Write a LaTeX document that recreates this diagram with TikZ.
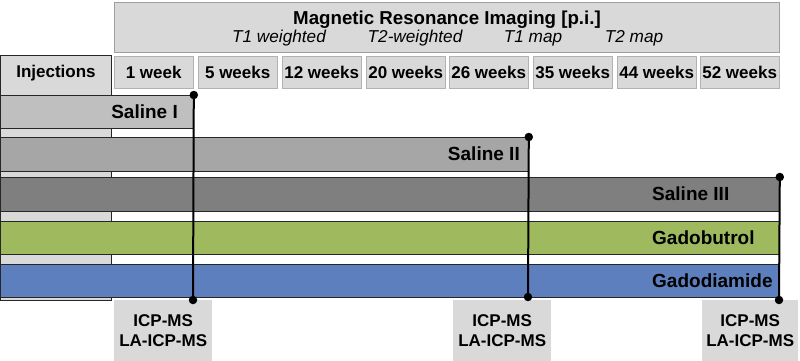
\documentclass[tikz,border=0pt]{standalone}
\usepackage{fontspec}
\setmainfont{Liberation Sans}
\usetikzlibrary{positioning}
\definecolor{cellgray}{HTML}{D9D9D9}
\definecolor{salIfill}{HTML}{BFBFBF}
\definecolor{salIIfill}{HTML}{A6A6A6}
\definecolor{salIIIfill}{HTML}{7F7F7F}
\definecolor{gdbtfill}{HTML}{9FBA5E}
\definecolor{gddafill}{HTML}{5D7FBE}

\begin{document}
\begin{tikzpicture}[
  x=1pt, y=-1pt,
  every node/.style={font=\fontsize{17}{20}\selectfont},
  header/.style={
    draw=gray!75, fill=cellgray, anchor=north west,
    minimum width=665pt, minimum height=50pt, inner sep=0pt
  },
  title/.style={font=\fontsize{18.7}{20}\selectfont\bfseries, inner sep=0pt},
  subtitle/.style={font=\fontsize{17.2}{20}\selectfont\itshape, inner sep=0pt},
  weekcell/.style={
    draw=gray!60, fill=cellgray, anchor=north west,
    minimum width=79pt, minimum height=32pt, inner sep=0pt,
    font=\fontsize{17}{20}\selectfont\bfseries
  },
  bar/.style={
    draw=black!85, line width=0.8pt, anchor=north west,
    minimum height=33pt, inner sep=0pt
  },
  barlabel/.style={font=\fontsize{19}{20}\selectfont\bfseries, inner sep=0pt},
  assay/.style={
    fill=cellgray, anchor=north west, align=center,
    minimum width=98pt, minimum height=61pt, inner sep=0pt,
    font=\fontsize{17}{20}\selectfont\bfseries
  },
  probe/.style={line width=2pt},
  dot/.style={circle, fill=black, inner sep=0pt, minimum size=8.5pt}
]
\useasboundingbox (0,0) rectangle (800,361);

% --- MRI header ---
\node[header] (mri) at (114,2) {};
\node[title] (mrititle) at (447,20) {Magnetic Resonance Imaging [p.i.]};
\node[subtitle] (t1w)   at (279,38) {T1 weighted};
\node[subtitle] (t2w)   at (415,38) {T2-weighted};
\node[subtitle] (t1map) at (533,38) {T1 map};
\node[subtitle] (t2map) at (634,38) {T2 map};

% --- time points ---
\node[weekcell] (w1)  at (114,56) {1 week};
\node[weekcell] (w5)  at (198,56) {5 weeks};
\node[weekcell] (w12) at (282,56) {12 weeks};
\node[weekcell] (w20) at (366,56) {20 weeks};
\node[weekcell] (w26) at (449,56) {26 weeks};
\node[weekcell] (w35) at (533,56) {35 weeks};
\node[weekcell] (w44) at (617,56) {44 weeks};
\node[weekcell] (w52) at (700,56) {52 weeks};

% --- injection column (behind the groups) ---
\node[draw=black!85, line width=0.8pt, fill=cellgray, anchor=north west,
      minimum width=111pt, minimum height=245pt, inner sep=0pt] (injcol) at (0,55) {};
\node[font=\fontsize{17}{20}\selectfont\bfseries, inner sep=0pt] (inj) at (56,73) {Injections};

% --- groups ---
\node[bar, fill=salIfill,   minimum width=193pt] (salI)   at (0,95)  {};
\node[bar, fill=salIIfill,  minimum width=528pt, minimum height=34pt] (salII)  at (0,137) {};
\node[bar, fill=salIIIfill, minimum width=779pt, minimum height=34pt] (salIII) at (0,177) {};
\node[bar, fill=gdbtfill,   minimum width=779pt] (gdbt)   at (0,221) {};
\node[bar, fill=gddafill,   minimum width=779pt] (gdda)   at (0,264) {};

\node[barlabel, anchor=east] (salIlbl)   at (178,111.5) {Saline I};
\node[barlabel, anchor=east] (salIIlbl)  at (520,154)   {Saline II};
\node[barlabel, anchor=west] (salIIIlbl) at (652,194)   {Saline III};
\node[barlabel, anchor=west] (gdbtlbl)   at (652,237.5) {Gadobutrol};
\node[barlabel, anchor=west] (gddalbl)   at (652,280.5) {Gadodiamide};

% --- tissue analysis ---
\node[assay] (icpA) at (114,300) {ICP-MS\\LA-ICP-MS};
\node[assay] (icpB) at (453,300) {ICP-MS\\LA-ICP-MS};
\node[assay, minimum width=96pt] (icpC) at (702,300) {ICP-MS\\LA-ICP-MS};

\coordinate (endA) at (193,300);
\coordinate (endB) at (528,297);
\coordinate (endC) at (779,300);

\draw[probe] (salI.north east)   -- (endA);
\draw[probe] (salII.north east)  -- (endB);
\draw[probe] (salIII.north east) -- (endC);

\node[dot] at (salI.north east) {};
\node[dot] at (salII.north east) {};
\node[dot] at (salIII.north east) {};
\node[dot] at (endA) {};
\node[dot] at (endB) {};
\node[dot] at (endC) {};

\end{tikzpicture}
\end{document}
